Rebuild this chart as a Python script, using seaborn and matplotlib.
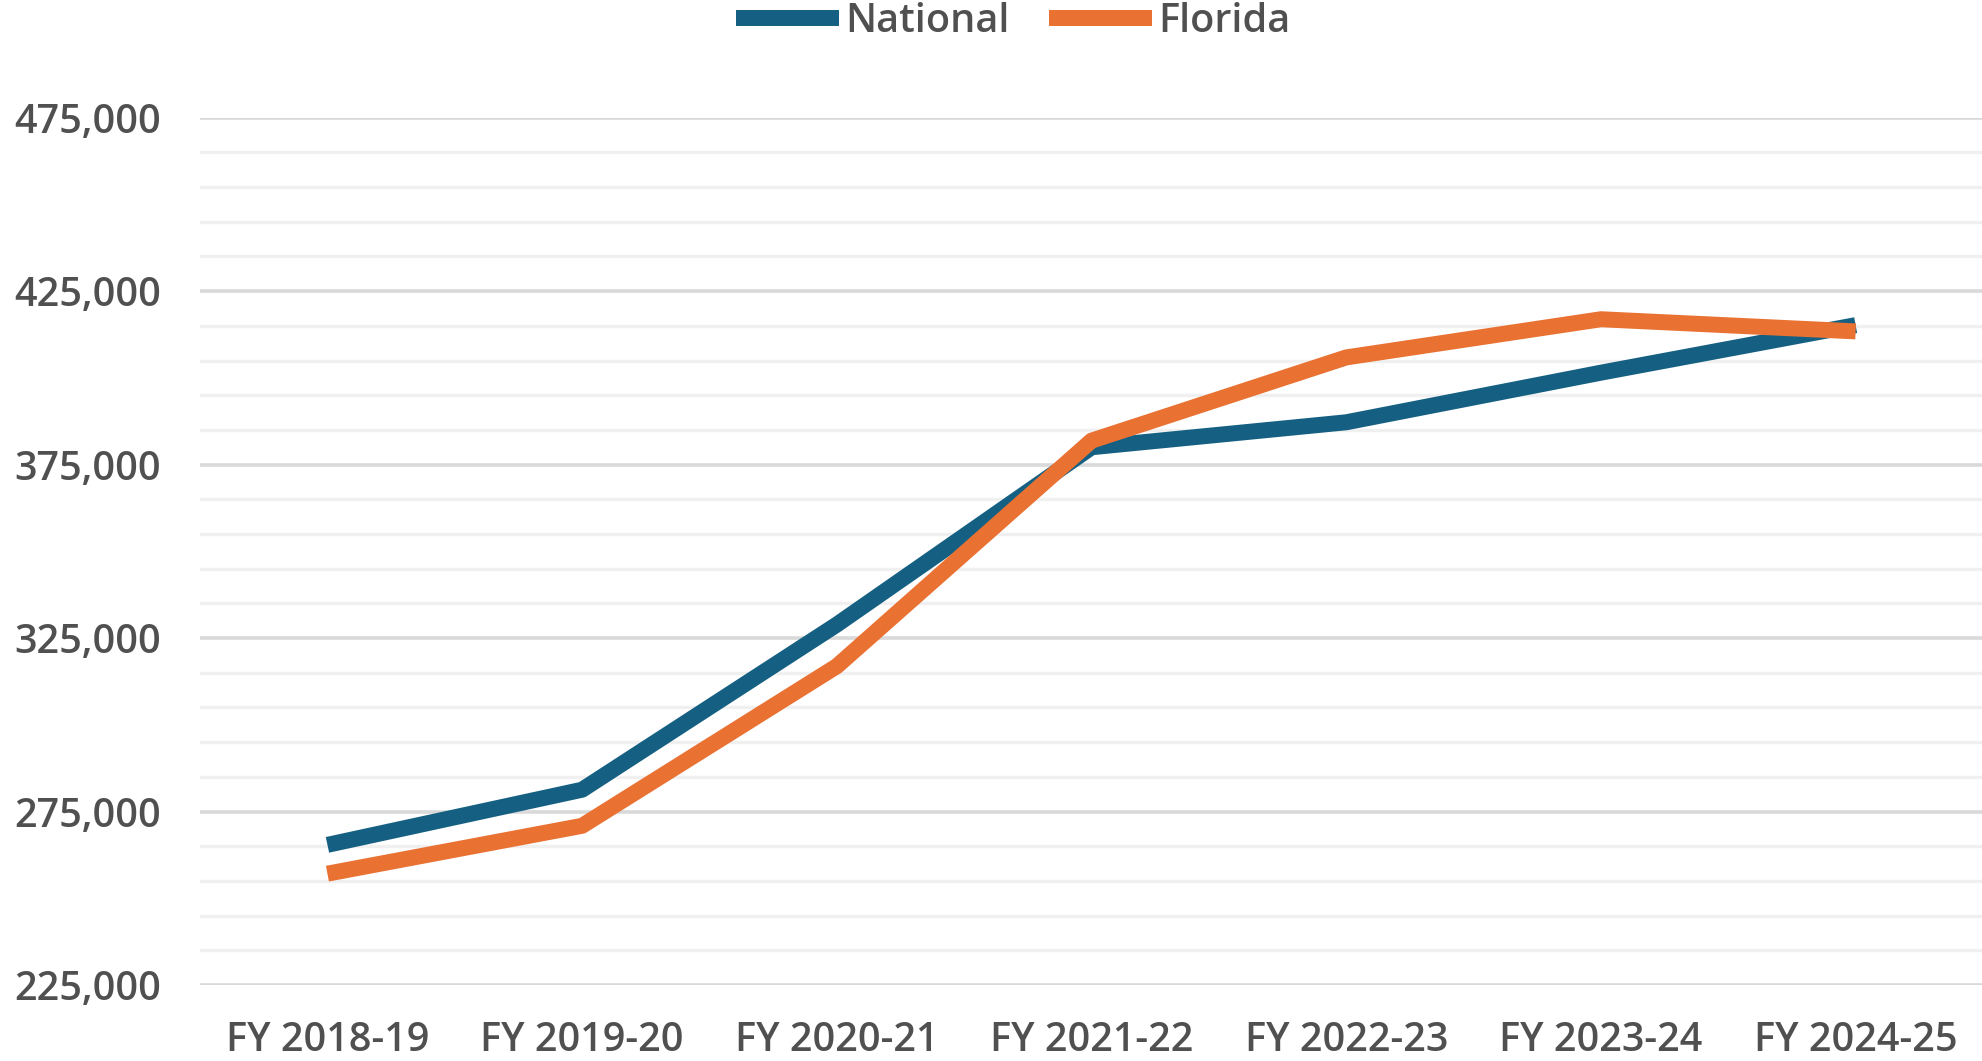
import matplotlib
matplotlib.use("Agg")
import matplotlib.pyplot as plt
from matplotlib.ticker import FixedLocator, FuncFormatter
import pandas as pd
import seaborn as sns

years = ["FY 2018-19", "FY 2019-20", "FY 2020-21", "FY 2021-22",
         "FY 2022-23", "FY 2023-24", "FY 2024-25"]
national = [265400, 281300, 328900, 380000, 387200, 401500, 415200]
florida = [257100, 270900, 316900, 381900, 405900, 416900, 413400]
series_names = ["National", "Florida"]
series_colors = ["#156082", "#E97132"]
major_ticks = [225000, 275000, 325000, 375000, 425000, 475000]
minor_ticks = list(range(225000, 475001, 10000))

df = pd.DataFrame({
    "Year": years * 2,
    "Value": national + florida,
    "Series": [series_names[0]] * len(years) + [series_names[1]] * len(years),
})

sns.set_style("white")
plt.rcParams["font.family"] = ["Open Sans", "DejaVu Sans"]
plt.rcParams["font.weight"] = "semibold"

fig = plt.figure(figsize=(19.83, 10.61), dpi=100)
ax = fig.add_axes([0.1009, 0.0716, 0.8991, 0.8175])

sns.lineplot(data=df, x="Year", y="Value", hue="Series",
             palette=dict(zip(series_names, series_colors)),
             linewidth=11.5, sort=False, ax=ax, legend=False)
for ln in ax.lines:
    ln.set_solid_capstyle("butt")
    ln.set_solid_joinstyle("round")

ax.set_xlim(-0.5, len(years) - 0.5)
ax.set_ylim(225000, 475000)
ax.yaxis.set_major_locator(FixedLocator(major_ticks))
ax.yaxis.set_minor_locator(FixedLocator(minor_ticks))
ax.yaxis.set_major_formatter(FuncFormatter(lambda v, p: f"{int(v):,}"))
ax.grid(axis="y", which="major", color="#d9d9d9", linewidth=2.6)
ax.grid(axis="y", which="minor", color="#f0f0f0", linewidth=2.4)
ax.grid(axis="x", visible=False)
ax.set_axisbelow(True)
for s in ax.spines.values():
    s.set_visible(False)
ax.set_xlabel("")
ax.set_ylabel("")
ax.tick_params(axis="both", which="both", length=0, labelsize=28.5,
               labelcolor="#505050")
ax.tick_params(axis="y", pad=28)
ax.tick_params(axis="x", pad=26)

handles = [plt.Line2D([], [], color=c, linewidth=11.5, solid_capstyle="butt")
           for c in series_colors]
fig.legend(handles, series_names, loc="center", bbox_to_anchor=(0.511, 0.979),
           ncol=2, frameon=False, fontsize=28.5, labelcolor="#505050",
           handlelength=2.6, handletextpad=0.15, columnspacing=1.0)

fig.savefig("out.png", dpi=100, facecolor="white")
